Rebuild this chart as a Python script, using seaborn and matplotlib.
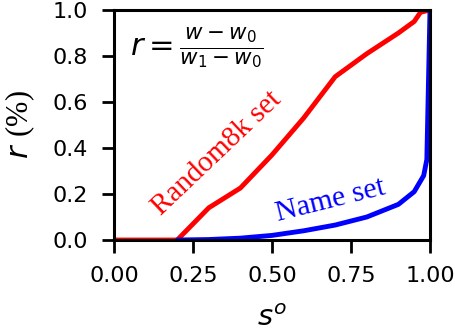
import matplotlib
matplotlib.use("Agg")
import matplotlib.pyplot as plt
import seaborn as sns
import numpy as np

sns.set_style("ticks")
plt.rcParams['font.family'] = ['DejaVu Sans']
plt.rcParams['mathtext.fontset'] = 'dejavusans'
# used only by the y label: sans italic r, serif (%)
plt.rcParams['mathtext.rm'] = 'Liberation Serif'
plt.rcParams['mathtext.it'] = 'DejaVu Sans:italic'

# data
s_random = [0.0, 0.1, 0.2, 0.3, 0.4, 0.5, 0.6, 0.7, 0.8, 0.9, 0.95, 0.97, 1.0]
r_random = [0.0, 0.0, 0.0, 0.14, 0.226, 0.37, 0.53, 0.71, 0.81, 0.90, 0.95, 0.99, 1.0]

s_name = [0.2, 0.3, 0.4, 0.5, 0.6, 0.7, 0.8, 0.9, 0.95, 0.98, 0.99, 1.0]
r_name = [0.0, 0.002, 0.008, 0.02, 0.04, 0.065, 0.10, 0.155, 0.21, 0.28, 0.35, 1.0]

x_ticks = [0.0, 0.25, 0.5, 0.75, 1.0]
y_ticks = [0.0, 0.2, 0.4, 0.6, 0.8, 1.0]

fig, ax = plt.subplots(figsize=(4.56, 3.35), dpi=100)

sns.lineplot(x=s_random, y=r_random, color='red', linewidth=3.5, ax=ax)
sns.lineplot(x=s_name, y=r_name, color='blue', linewidth=3.5, ax=ax)

ax.set_xlim(0, 1)
ax.set_ylim(0, 1)
ax.set_xticks(x_ticks)
ax.set_yticks(y_ticks)
ax.set_xticklabels([f'{t:.2f}' for t in x_ticks])
ax.set_yticklabels([f'{t:.1f}' for t in y_ticks])
ax.tick_params(labelsize=16, width=2, length=9, direction='out', pad=10,
               colors='black', labelcolor='black')
for sp in ax.spines.values():
    sp.set_linewidth(2.2)
    sp.set_color('black')

ax.set_xlabel('$s^o$', fontsize=21, color='black', labelpad=13)
ax.set_ylabel(r'$r\ (\%)$', fontsize=22, color='black', labelpad=11,
              math_fontfamily='custom')

ax.text(0.05, 0.835, r'$r = \frac{w - w_0}{w_1 - w_0}$', fontsize=22,
        ha='left', va='center', transform=ax.transAxes, color='black')
ax.text(0.326, 0.378, 'Random8k set', color='red', fontsize=21,
        family='Liberation Serif', rotation=43.5, ha='center', va='center',
        rotation_mode='anchor')
ax.text(0.684, 0.17, 'Name set', color='blue', fontsize=21.5,
        family='Liberation Serif', rotation=14, ha='center', va='center',
        rotation_mode='anchor')

fig.subplots_adjust(left=114/456, right=430/456, top=1-10/335, bottom=1-240/335)
fig.savefig('out.png', dpi=100)
